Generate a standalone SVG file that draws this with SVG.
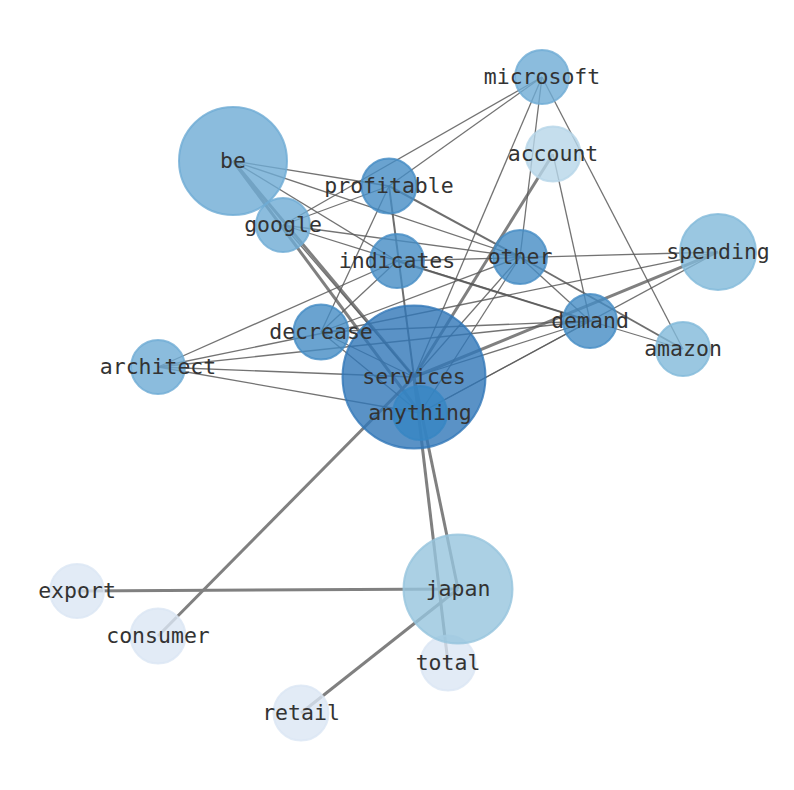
<svg xmlns="http://www.w3.org/2000/svg" width="794" height="790" viewBox="0 0 794 790">
<style>
.bg{fill:#ffffff}
.e1{stroke:#5a5a5a;stroke-width:1.3;stroke-opacity:0.85;fill:none}
.e2{stroke:#555555;stroke-width:2;stroke-opacity:0.85;fill:none}
.e3{stroke:#808080;stroke-width:3;fill:none}
.n circle{stroke-width:2;fill-opacity:0.8;stroke-opacity:0.8}
.c0 circle{fill:#3177b8;stroke:#3177b8}
.c1 circle{fill:#3686c3;stroke:#3686c3}
.c2 circle{fill:#458cc4;stroke:#458cc4}
.c3 circle{fill:#6eabd4;stroke:#6eabd4}
.c4 circle{fill:#81b9d9;stroke:#81b9d9}
.c5 circle{fill:#96c4dd;stroke:#96c4dd}
.c6 circle{fill:#b6d6e8;stroke:#b6d6e8}
.c7 circle{fill:#dbe6f4;stroke:#dbe6f4}
text{font-family:"DejaVu Sans Mono","Liberation Mono",monospace;font-size:21.5px;fill:#333333;text-anchor:middle}
</style>
<rect class="bg" x="0" y="0" width="794" height="790"/>
<g id="connectors">
  <!-- thick -->
  <line class="e3" x1="77" y1="591" x2="458" y2="589"/>
  <line class="e3" x1="158" y1="636" x2="414" y2="377"/>
  <line class="e3" x1="301" y1="713" x2="458" y2="589"/>
  <line class="e3" x1="458" y1="589" x2="414" y2="377"/>
  <line class="e3" x1="448" y1="663" x2="414" y2="377"/>
  <line class="e3" x1="233" y1="161" x2="414" y2="377"/>
  <line class="e3" x1="233" y1="161" x2="420" y2="413"/>
  <line class="e3" x1="718" y1="252" x2="414" y2="377"/>
  <line class="e3" x1="553" y1="154" x2="414" y2="377"/>
  <!-- medium -->
  <line class="e2" x1="389" y1="186" x2="414" y2="377"/>
  <line class="e2" x1="389" y1="186" x2="520" y2="257"/>
  <line class="e2" x1="397" y1="261" x2="590" y2="321"/>
  <line class="e2" x1="520" y1="257" x2="683" y2="349"/>
  <!-- thin -->
  <line class="e1" x1="542" y1="77" x2="283" y2="225"/>
  <line class="e1" x1="542" y1="77" x2="389" y2="186"/>
  <line class="e1" x1="542" y1="77" x2="414" y2="377"/>
  <line class="e1" x1="542" y1="77" x2="520" y2="257"/>
  <line class="e1" x1="542" y1="77" x2="683" y2="349"/>
  <line class="e1" x1="553" y1="154" x2="590" y2="321"/>
  <line class="e1" x1="233" y1="161" x2="389" y2="186"/>
  <line class="e1" x1="233" y1="161" x2="520" y2="257"/>
  <line class="e1" x1="233" y1="161" x2="397" y2="261"/>
  <line class="e1" x1="283" y1="225" x2="389" y2="186"/>
  <line class="e1" x1="283" y1="225" x2="520" y2="257"/>
  <line class="e1" x1="283" y1="225" x2="590" y2="321"/>
  <line class="e1" x1="283" y1="225" x2="414" y2="377"/>
  <line class="e1" x1="389" y1="186" x2="321" y2="332"/>
  <line class="e1" x1="397" y1="261" x2="158" y2="367"/>
  <line class="e1" x1="397" y1="261" x2="718" y2="252"/>
  <line class="e1" x1="397" y1="261" x2="321" y2="332"/>
  <line class="e1" x1="520" y1="257" x2="590" y2="321"/>
  <line class="e1" x1="520" y1="257" x2="414" y2="377"/>
  <line class="e1" x1="520" y1="257" x2="420" y2="413"/>
  <line class="e1" x1="520" y1="257" x2="321" y2="332"/>
  <line class="e1" x1="590" y1="321" x2="683" y2="349"/>
  <line class="e1" x1="590" y1="321" x2="158" y2="367"/>
  <line class="e1" x1="590" y1="321" x2="321" y2="332"/>
  <line class="e1" x1="590" y1="321" x2="414" y2="377"/>
  <line class="e1" x1="590" y1="321" x2="420" y2="413"/>
  <line class="e1" x1="158" y1="367" x2="718" y2="252"/>
  <line class="e1" x1="321" y1="332" x2="414" y2="377"/>
  <line class="e1" x1="321" y1="332" x2="420" y2="413"/>
  <line class="e1" x1="158" y1="367" x2="414" y2="377"/>
  <line class="e1" x1="158" y1="367" x2="420" y2="413"/>
  <line class="e1" x1="718" y1="252" x2="420" y2="413"/>
</g>
<g id="node-be" class="n c3"><circle cx="233" cy="161" r="54"/></g>
<g id="node-google" class="n c3"><circle cx="283" cy="225" r="27"/></g>
<g id="node-microsoft" class="n c3"><circle cx="542" cy="77" r="27"/></g>
<g id="node-account" class="n c6"><circle cx="553" cy="154" r="27.5"/></g>
<g id="node-profitable" class="n c2"><circle cx="389" cy="186" r="27.5"/></g>
<g id="node-indicates" class="n c2"><circle cx="397" cy="261" r="27"/></g>
<g id="node-other" class="n c2"><circle cx="520" cy="257" r="27"/></g>
<g id="node-spending" class="n c4"><circle cx="718" cy="252" r="38"/></g>
<g id="node-demand" class="n c2"><circle cx="590" cy="321" r="27"/></g>
<g id="node-amazon" class="n c4"><circle cx="683" cy="349" r="27"/></g>
<g id="node-decrease" class="n c2"><circle cx="321" cy="332" r="27.5"/></g>
<g id="node-architect" class="n c3"><circle cx="158" cy="367" r="27"/></g>
<g id="node-services" class="n c0"><circle cx="414" cy="377" r="71.5"/></g>
<g id="node-anything" class="n c1"><circle cx="420" cy="413" r="27"/></g>
<g id="node-export" class="n c7"><circle cx="77" cy="591" r="27"/></g>
<g id="node-consumer" class="n c7"><circle cx="158" cy="636" r="27.5"/></g>
<g id="node-total" class="n c7"><circle cx="448" cy="663" r="27.5"/></g>
<g id="node-japan" class="n c5"><circle cx="458" cy="589" r="54.5"/></g>
<g id="node-retail" class="n c7"><circle cx="301" cy="713" r="27.5"/></g>
<g id="labels">
  <text x="542" y="84">microsoft</text>
  <text x="553" y="161">account</text>
  <text x="233" y="168">be</text>
  <text x="389" y="193">profitable</text>
  <text x="283" y="232">google</text>
  <text x="397" y="268">indicates</text>
  <text x="520" y="264">other</text>
  <text x="718" y="259">spending</text>
  <text x="590" y="328">demand</text>
  <text x="683" y="356">amazon</text>
  <text x="321" y="339">decrease</text>
  <text x="158" y="374">architect</text>
  <text x="414" y="384">services</text>
  <text x="420" y="420">anything</text>
  <text x="77" y="598">export</text>
  <text x="158" y="643">consumer</text>
  <text x="458" y="596">japan</text>
  <text x="448" y="670">total</text>
  <text x="301" y="720">retail</text>
</g>
</svg>
